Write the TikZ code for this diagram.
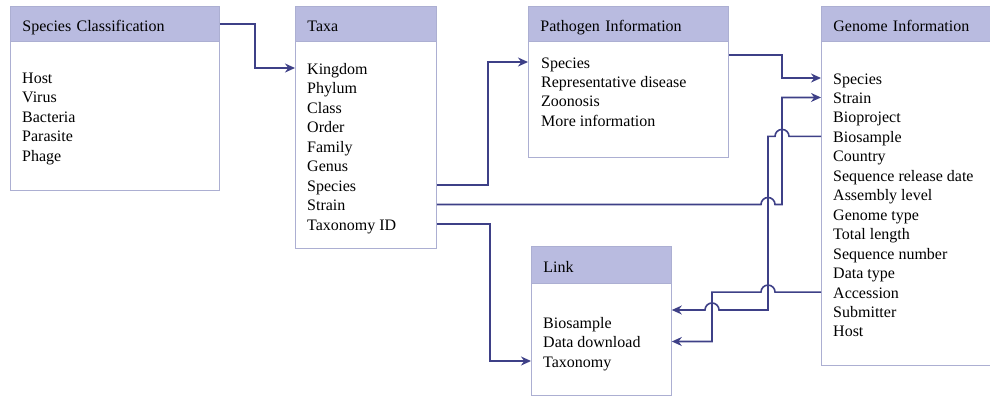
\documentclass[tikz,border=0pt]{standalone}
\usepackage{fontspec}
\setmainfont{Liberation Serif}
\usepackage{tikz}
\usetikzlibrary{positioning,calc,arrows.meta}
\definecolor{hdrfill}{RGB}{185,187,224}
\definecolor{boxline}{RGB}{172,175,210}
\definecolor{linkcol}{RGB}{62,64,135}
\tikzset{
	tbl/.style={draw=boxline, fill=white, line width=0.8pt, anchor=north west, inner sep=0pt},
	hdr/.style={draw=boxline, fill=hdrfill, line width=0.8pt, anchor=north west, minimum height=35pt, inner xsep=12pt, inner ysep=0pt, text height=15pt, text depth=0pt, align=left},
	item/.style={anchor=west, inner sep=0pt, text height=12pt, text depth=0pt},
	conn/.style={draw=linkcol, line width=1.6pt, -{Stealth[length=10pt,width=9pt]}},
}

\begin{document}
\begin{tikzpicture}[x=1pt, y=-1pt, font=\fontsize{16}{19.5}\selectfont]
	\useasboundingbox (0,0) rectangle (990,397);
	% tables
	\node[tbl, minimum width=209pt, minimum height=184pt] (sc) at (10,6) {};
	\node[hdr, text width=185pt] (sch) at (10,6) {Species Classification};
	\node[tbl, minimum width=141pt, minimum height=242pt] (taxa) at (295,6) {};
	\node[hdr, text width=117pt] (taxah) at (295,6) {Taxa};
	\node[tbl, minimum width=200pt, minimum height=151pt] (path) at (528,6) {};
	\node[hdr, text width=176pt] (pathh) at (528,6) {Pathogen Information};
	\node[tbl, minimum width=175pt, minimum height=359pt] (genome) at (821,6) {};
	\node[hdr, text width=151pt] (genomeh) at (821,6) {Genome Information};
	\node[tbl, minimum width=140pt, minimum height=149pt] (link) at (531,246) {};
	\node[hdr, text width=116pt, minimum height=37pt] (linkh) at (531,246) {Link};
	% fields
	\foreach \t [count=\i] in {Host,Virus,Bacteria,Parasite,Phage}
		\node[item] (sc\i) at (22,{77+19.5*(\i-1)}) {\t};
	\foreach \t [count=\i] in {Kingdom,Phylum,Class,Order,Family,Genus,Species,Strain,Taxonomy ID}
		\node[item] (tx\i) at (307,{68+19.5*(\i-1)}) {\t};
	\foreach \t [count=\i] in {Species,Representative disease,Zoonosis,More information}
		\node[item] (pa\i) at (541,{62+19.4*(\i-1)}) {\t};
	\foreach \t [count=\i] in {Species,Strain,Bioproject,Biosample,Country,Sequence release date,Assembly level,Genome type,Total length,Sequence number,Data type,Accession,Submitter,Host}
		\node[item] (gn\i) at (833,{78+19.46*(\i-1)}) {\t};
	\foreach \t [count=\i] in {Biosample,Data download,Taxonomy}
		\node[item] (lk\i) at (543,{322+19.5*(\i-1)}) {\t};
	% bends
	\coordinate (vsc) at (255,0);
	\coordinate (vsp) at (488,0);
	\coordinate (vtax) at (490,0);
	\coordinate (vacc) at (712,0);
	\coordinate (vbio) at (768,0);
	\coordinate (vpg) at (782,0);
	\coordinate (pgout) at ($(pathh.south east)+(0,13)$);
	\coordinate (lkin) at ($(lk1)+(0,-12)$);
	% links
	\draw[conn] (sch.east) -- (vsc |- sch.east) -- (vsc |- tx1) -- (tx1 -| taxa.west);
	\draw[conn] (tx7 -| taxa.east) -- (vsp |- tx7) -- (vsp |- pa1) -- (pa1 -| path.west);
	\draw[conn] (pgout) -- (vpg |- pgout) -- (vpg |- gn1) -- (gn1 -| genome.west);
	\draw[conn] (tx8 -| taxa.east) -- ($(vbio |- tx8)+(-7,0)$) arc[start angle=180, end angle=0, radius=7pt]
		-- (vpg |- tx8) -- (vpg |- gn2) -- (gn2 -| genome.west);
	\draw[conn] (gn4 -| genome.west) -- ($(vpg |- gn4)+(7,0)$) arc[start angle=0, end angle=180, radius=7pt]
		-- (vbio |- gn4) -- (vbio |- lkin) -- ($(vacc |- lkin)+(7,0)$) arc[start angle=0, end angle=180, radius=7pt]
		-- (lkin -| link.east);
	\draw[conn] (gn12 -| genome.west) -- ($(vbio |- gn12)+(7,0)$) arc[start angle=0, end angle=180, radius=7pt]
		-- (vacc |- gn12) -- (vacc |- lk2) -- (lk2 -| link.east);
	\draw[conn] (tx9 -| taxa.east) -- (vtax |- tx9) -- (vtax |- lk3) -- (lk3 -| link.west);
\end{tikzpicture}
\end{document}
